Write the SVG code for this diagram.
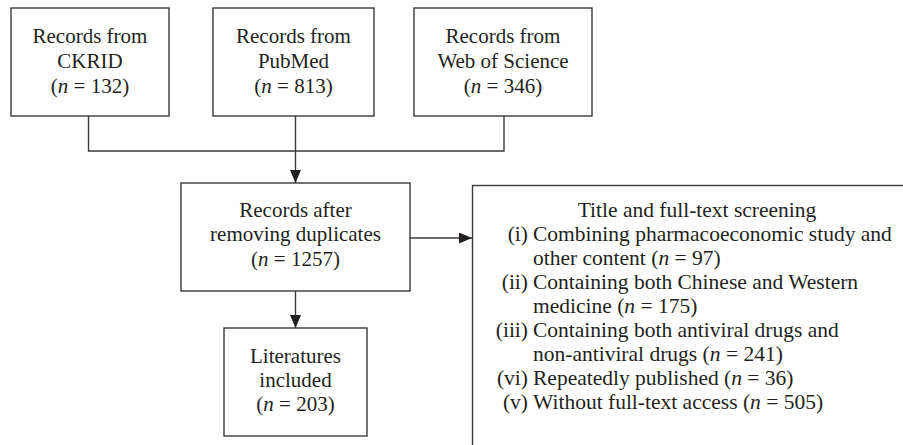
<svg xmlns="http://www.w3.org/2000/svg" width="903" height="445" viewBox="0 0 903 445">
<style>
  .box { fill: #ffffff; stroke: #3a3a3a; stroke-width: 1.4; }
  .ln { fill: none; stroke: #3a3a3a; stroke-width: 1.4; }
  text { font-family: "Liberation Serif", "Times New Roman", serif; font-size: 21px; fill: #231f20; }
  .c { text-anchor: middle; }
  .r { text-anchor: end; }
  .i { font-style: italic; }
  .s text { font-size: 21.5px; }
</style>
<defs>
  <marker id="arr" viewBox="0 0 13 11" refX="13" refY="5.5" markerWidth="13" markerHeight="11" markerUnits="userSpaceOnUse" orient="auto">
    <path d="M0,0 L13,5.5 L0,11 Z" fill="#231f20"/>
  </marker>
</defs>
<rect width="903" height="445" fill="#ffffff"/>
<g id="connectors">
  <path class="ln" d="M88.5 116 V151 H504 V116"/>
  <path class="ln" d="M295.5 116 V183" marker-end="url(#arr)"/>
  <path class="ln" d="M295.5 291 V328" marker-end="url(#arr)"/>
  <path class="ln" d="M410 238 H472" marker-end="url(#arr)"/>
</g>
<g id="ckrid">
  <rect class="box" x="11" y="8" width="158" height="108"/>
  <text class="c" x="90" y="43">Records from</text>
  <text class="c" x="90" y="68">CKRID</text>
  <text class="c" x="90" y="93">(<tspan class="i">n</tspan> = 132)</text>
</g>
<g id="pubmed">
  <rect class="box" x="213" y="8" width="161" height="108"/>
  <text class="c" x="293.5" y="43">Records from</text>
  <text class="c" x="293.5" y="68">PubMed</text>
  <text class="c" x="293.5" y="93">(<tspan class="i">n</tspan> = 813)</text>
</g>
<g id="wos">
  <rect class="box" x="414" y="8" width="178" height="108"/>
  <text class="c" x="503" y="43">Records from</text>
  <text class="c" x="503" y="68">Web of Science</text>
  <text class="c" x="503" y="93">(<tspan class="i">n</tspan> = 346)</text>
</g>
<g id="dedup">
  <rect class="box" x="181" y="183" width="229" height="108"/>
  <text class="c" x="295.5" y="217">Records after</text>
  <text class="c" x="295.5" y="241">removing duplicates</text>
  <text class="c" x="295.5" y="266">(<tspan class="i">n</tspan> = 1257)</text>
</g>
<g id="included">
  <rect class="box" x="224" y="328" width="143" height="108"/>
  <text class="c" x="295.5" y="363">Literatures</text>
  <text class="c" x="295.5" y="387">included</text>
  <text class="c" x="295.5" y="411">(<tspan class="i">n</tspan> = 203)</text>
</g>
<g id="screening" class="s">
  <rect class="box" x="472.5" y="185.5" width="460" height="300"/>
  <text class="c" x="697" y="217">Title and full-text screening</text>
  <text class="r" x="528" y="241">(i)</text>
  <text x="533" y="241">Combining pharmacoeconomic study and</text>
  <text x="533" y="265">other content (<tspan class="i">n</tspan> = 97)</text>
  <text class="r" x="528" y="289">(ii)</text>
  <text x="533" y="289">Containing both Chinese and Western</text>
  <text x="533" y="313">medicine (<tspan class="i">n</tspan> = 175)</text>
  <text class="r" x="528" y="337">(iii)</text>
  <text x="533" y="337">Containing both antiviral drugs and</text>
  <text x="533" y="361">non-antiviral drugs (<tspan class="i">n</tspan> = 241)</text>
  <text class="r" x="528" y="385">(vi)</text>
  <text x="533" y="385">Repeatedly published (<tspan class="i">n</tspan> = 36)</text>
  <text class="r" x="528" y="409">(v)</text>
  <text x="533" y="409">Without full-text access (<tspan class="i">n</tspan> = 505)</text>
</g>
</svg>
